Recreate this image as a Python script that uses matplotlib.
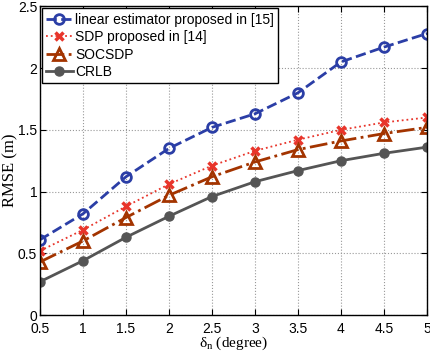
import matplotlib
matplotlib.use("Agg")
import matplotlib.pyplot as plt

# delta_n (degree)
delta = [0.5, 1, 1.5, 2, 2.5, 3, 3.5, 4, 4.5, 5]

rmse_linear = [0.61, 0.82, 1.12, 1.35, 1.52, 1.63, 1.80, 2.05, 2.17, 2.28]
rmse_sdp = [0.52, 0.69, 0.88, 1.06, 1.21, 1.33, 1.42, 1.50, 1.56, 1.60]
rmse_socsdp = [0.43, 0.60, 0.79, 0.97, 1.12, 1.24, 1.34, 1.41, 1.47, 1.52]
rmse_crlb = [0.27, 0.44, 0.63, 0.80, 0.96, 1.08, 1.17, 1.25, 1.31, 1.36]

xticks = [0.5, 1, 1.5, 2, 2.5, 3, 3.5, 4, 4.5, 5]
xtick_labels = ["0.5", "1", "1.5", "2", "2.5", "3", "3.5", "4", "4.5", "5"]
yticks = [0, 0.5, 1, 1.5, 2, 2.5]
ytick_labels = ["0", "0.5", "1", "1.5", "2", "2.5"]

plt.rcParams["font.family"] = ["Liberation Sans", "DejaVu Sans"]
plt.rcParams["mathtext.fontset"] = "custom"
plt.rcParams["mathtext.rm"] = "Liberation Serif"

fig = plt.figure(figsize=(4.3, 3.54), dpi=100)
ax = fig.add_axes([0.093, 0.110, 0.900, 0.872])

ax.plot(delta, rmse_linear, "--o", color="#2b3ea6", lw=2, ms=7, mfc="none", mew=2,
        label="linear estimator proposed in [15]")
ax.plot(delta, rmse_sdp, ":x", color="#e8352b", lw=1.3, ms=6, mew=2.5,
        label="SDP proposed in [14]")
ax.plot(delta, rmse_socsdp, "-.^", color="#a33400", lw=2, ms=9, mfc="none", mew=2,
        label="SOCSDP")
ax.plot(delta, rmse_crlb, "-o", color="#555555", lw=2, ms=6.5,
        label="CRLB")

ax.set_xlim(0.5, 5)
ax.set_ylim(0, 2.5)
ax.set_xticks(xticks)
ax.set_xticklabels(xtick_labels)
ax.set_yticks(yticks)
ax.set_yticklabels(ytick_labels)
ax.tick_params(direction="in", top=True, right=True, labelsize=10, length=4)
ax.tick_params(axis="x", pad=5)
ax.tick_params(axis="y", pad=2)
ax.grid(True, linestyle=":", color="#999999", lw=0.8)
for s in ax.spines.values():
    s.set_linewidth(1.0)

ax.set_xlabel("δ$_{\\rm n}$ (degree)", family="Liberation Serif", fontsize=11)
ax.xaxis.set_label_coords(0.5, -0.064)
ax.set_ylabel("RMSE (m)", family="Liberation Serif", fontsize=12)
ax.yaxis.set_label_coords(-0.055, 0.47)

leg = ax.legend(loc="upper left", fontsize=10, fancybox=False, framealpha=1,
                edgecolor="black", borderpad=0.3, labelspacing=0.25,
                handlelength=1.9, handletextpad=0.2, borderaxespad=0.15)
leg.get_frame().set_linewidth(1.0)

fig.savefig("out.png", dpi=100)
